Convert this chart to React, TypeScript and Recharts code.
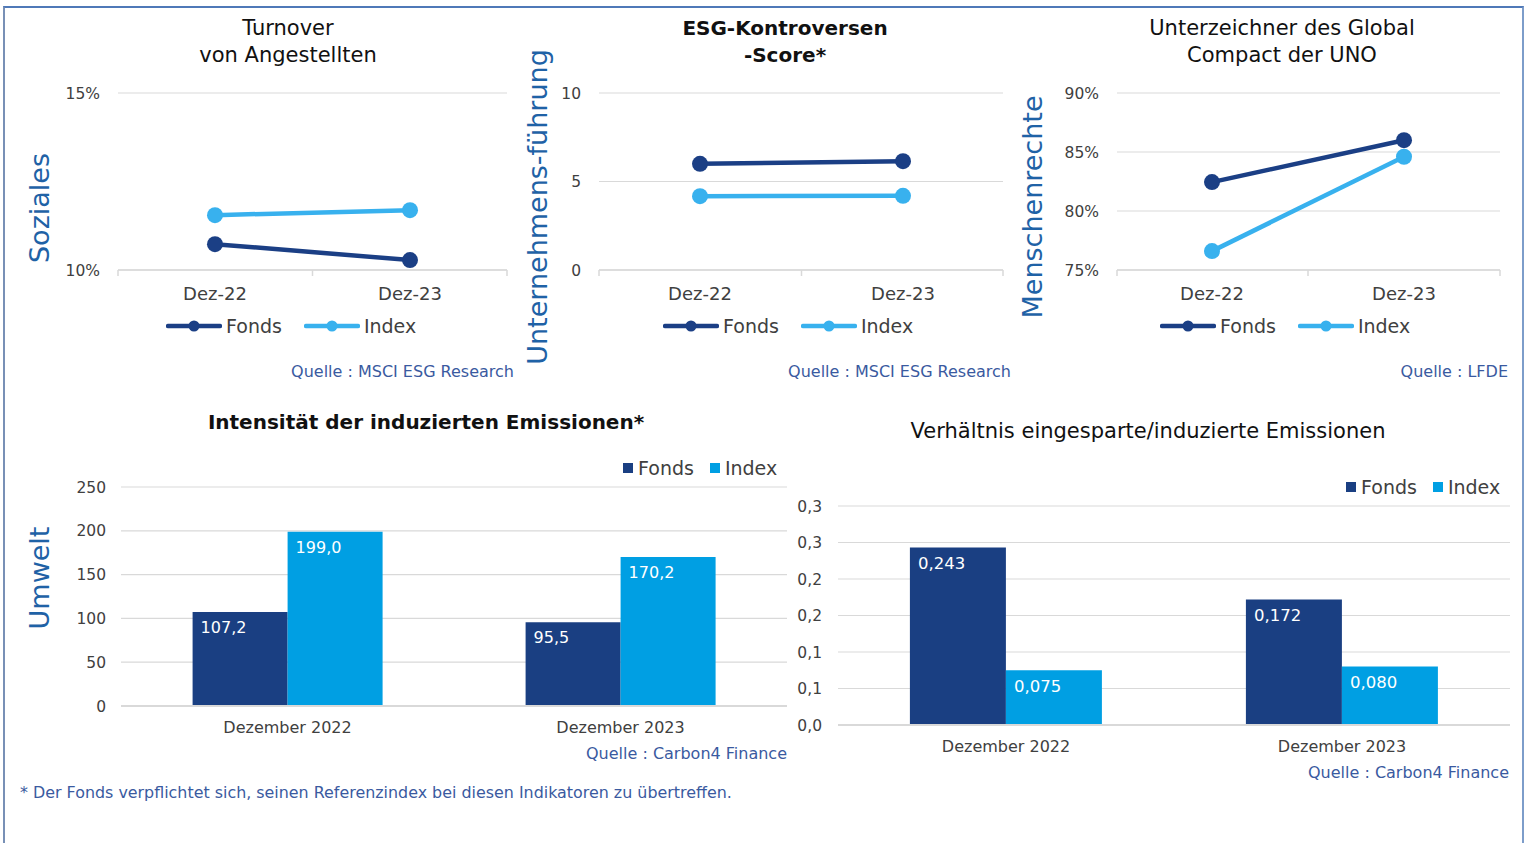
import React from 'react';
import { LineChart, Line, BarChart, Bar, XAxis, YAxis, CartesianGrid, Legend, LabelList } from 'recharts';

// ---------- data ----------
const lineCategories = ['Dez-22', 'Dez-23'];
const turnoverFonds = [10.73, 10.28];
const turnoverIndex = [11.55, 11.69];
const turnoverTicks = [10, 15];

const controversyFonds = [6.0, 6.15];
const controversyIndex = [4.17, 4.19];
const controversyTicks = [0, 5, 10];

const compactFonds = [82.45, 86.0];
const compactIndex = [76.6, 84.6];
const compactTicks = [75, 80, 85, 90];

const barCategories = ['Dezember 2022', 'Dezember 2023'];
const intensityFonds = [107.2, 95.5];
const intensityIndex = [199.0, 170.2];
const intensityTicks = [0, 50, 100, 150, 200, 250];

const ratioFonds = [0.243, 0.172];
const ratioIndex = [0.075, 0.08];
const ratioTicks = [0, 0.05, 0.1, 0.15, 0.2, 0.25, 0.3];
const ratioTickLabels = ['0,0', '0,1', '0,1', '0,2', '0,2', '0,3', '0,3'];

// ---------- styles ----------
const W = 1527;
const H = 843;
const FONT = '"DejaVu Sans", Verdana, sans-serif';
const FONDS_LINE = '#1b3f85';
const INDEX_LINE = '#38b1ee';
const FONDS_BAR = '#1a3f82';
const INDEX_BAR = '#009fe3';
const GRID = '#d9d9d9';
const TXT = '#404040';
const SRC = '#3a5aa0';
const AXIS_TITLE = '#1f62a6';

const lineTable = (f: number[], ix: number[]) =>
  lineCategories.map((c, i) => ({ cat: c, Fonds: f[i], Index: ix[i] }));
const barTable = (f: number[], ix: number[]) =>
  barCategories.map((c, i) => ({ cat: c, Fonds: f[i], Index: ix[i] }));

function LineCatTick(props: any) {
  const { x, y, payload, index, padL, padR, inner, count } = props;
  const marks: number[] = [];
  if (index === 0) marks.push(x - padL);
  marks.push(index === count - 1 ? x + padR : x + inner);
  return (
    <g>
      {marks.map((mx, i) => (
        <line key={i} x1={mx} x2={mx} y1={y} y2={y + 6} stroke={GRID} strokeWidth={1.5} />
      ))}
      <text x={x} y={y + 23.5} dy="0.35em" textAnchor="middle" fontSize={18} fill={TXT} fontFamily={FONT}>
        {payload.value}
      </text>
    </g>
  );
}

function BarCatTick(props: any) {
  const { x, y, payload } = props;
  return (
    <text x={x} y={y + 21} dy="0.35em" textAnchor="middle" fontSize={16} fill={TXT} fontFamily={FONT}>
      {payload.value}
    </text>
  );
}

function LineLegend(props: any) {
  const { payload } = props;
  return (
    <div style={{ display: 'flex', alignItems: 'center', fontFamily: FONT, fontSize: 19, color: TXT, whiteSpace: 'nowrap' }}>
      {(payload || []).map((p: any, i: number) => (
        <div key={i} style={{ display: 'flex', alignItems: 'center', marginRight: 22 }}>
          <svg width={56} height={14} style={{ display: 'block' }}>
            <line x1={2} y1={7} x2={54} y2={7} stroke={p.color} strokeWidth={4.5} strokeLinecap="round" />
            <circle cx={28} cy={7} r={5.5} fill={p.color} />
          </svg>
          <span style={{ marginLeft: 4 }}>{p.value}</span>
        </div>
      ))}
    </div>
  );
}

function BarLegend(props: any) {
  const { payload } = props;
  return (
    <div style={{ display: 'flex', alignItems: 'center', fontFamily: FONT, fontSize: 19, color: TXT, whiteSpace: 'nowrap' }}>
      {(payload || []).map((p: any, i: number) => (
        <div key={i} style={{ display: 'flex', alignItems: 'center', marginRight: 16 }}>
          <div style={{ width: 10, height: 10, background: p.color }} />
          <span style={{ marginLeft: 5 }}>{p.value}</span>
        </div>
      ))}
    </div>
  );
}

function InsideLabel(props: any) {
  const { x, y, value, digits, size } = props;
  const txt = Number(value).toFixed(digits).replace('.', ',');
  return (
    <text x={x + 8} y={y + 15.5} dy="0.35em" fill="#ffffff" fontSize={size} fontFamily={FONT}>
      {txt}
    </text>
  );
}

interface LineProps {
  data: any[];
  domain: [number, number];
  ticks: number[];
  fmt: (v: number) => string;
  plotL: number;
  plotR: number;
  plotT: number;
  plotB: number;
  padL: number;
  padR: number;
  gap: number;
  legendX: number;
  legendY: number;
}

function LinePanel(p: LineProps) {
  const xh = 40;
  const inner = (p.plotR - p.padR - (p.plotL + p.padL)) / 2;
  return (
    <div style={{ position: 'absolute', left: 0, top: 0 }}>
      <LineChart
        width={W}
        height={H}
        data={p.data}
        margin={{ top: p.plotT, right: W - p.plotR, bottom: H - p.plotB - xh, left: 0 }}
      >
        <CartesianGrid vertical={false} stroke={GRID} strokeWidth={1.2} />
        <XAxis
          dataKey="cat"
          height={xh}
          padding={{ left: p.padL, right: p.padR }}
          axisLine={{ stroke: GRID, strokeWidth: 1.5 }}
          tickLine={false}
          tickSize={0}
          tickMargin={0}
          interval={0}
          tick={<LineCatTick padL={p.padL} padR={p.padR} inner={inner} count={p.data.length} />}
        />
        <YAxis
          width={p.plotL}
          type="number"
          domain={p.domain}
          ticks={p.ticks}
          allowDataOverflow
          tickFormatter={p.fmt}
          axisLine={false}
          tickLine={false}
          tickSize={0}
          tickMargin={p.gap}
          tick={{ fontSize: 15.5, fill: TXT, fontFamily: FONT }}
        />
        <Line
          dataKey="Fonds"
          name="Fonds"
          stroke={FONDS_LINE}
          strokeWidth={4.5}
          dot={{ r: 8, fill: FONDS_LINE, stroke: FONDS_LINE, strokeWidth: 0 }}
          activeDot={false}
          isAnimationActive={false}
        />
        <Line
          dataKey="Index"
          name="Index"
          stroke={INDEX_LINE}
          strokeWidth={4.5}
          dot={{ r: 8, fill: INDEX_LINE, stroke: INDEX_LINE, strokeWidth: 0 }}
          activeDot={false}
          isAnimationActive={false}
        />
        <Legend
          layout="horizontal"
          verticalAlign="middle"
          align="center"
          content={<LineLegend />}
          wrapperStyle={{ left: p.legendX, top: p.legendY - 11, width: 320, height: 24 }}
        />
      </LineChart>
    </div>
  );
}

interface BarProps {
  data: any[];
  domain: [number, number];
  ticks: number[];
  fmt: (v: number, i: number) => string;
  plotL: number;
  plotR: number;
  plotT: number;
  plotB: number;
  gap: number;
  catGap: string;
  digits: number;
  labelSize: number;
  legendX: number;
  legendY: number;
}

function BarPanel(p: BarProps) {
  const xh = 40;
  return (
    <div style={{ position: 'absolute', left: 0, top: 0 }}>
      <BarChart
        width={W}
        height={H}
        data={p.data}
        barCategoryGap={p.catGap}
        barGap={0}
        margin={{ top: p.plotT, right: W - p.plotR, bottom: H - p.plotB - xh, left: 0 }}
      >
        <CartesianGrid vertical={false} stroke={GRID} strokeWidth={1.2} />
        <XAxis
          dataKey="cat"
          height={xh}
          axisLine={{ stroke: GRID, strokeWidth: 2 }}
          tickLine={false}
          tickSize={0}
          tickMargin={0}
          interval={0}
          tick={<BarCatTick />}
        />
        <YAxis
          width={p.plotL}
          type="number"
          domain={p.domain}
          ticks={p.ticks}
          allowDataOverflow
          tickFormatter={p.fmt}
          axisLine={false}
          tickLine={false}
          tickSize={0}
          tickMargin={p.gap}
          tick={{ fontSize: 15.5, fill: TXT, fontFamily: FONT }}
        />
        <Bar dataKey="Fonds" name="Fonds" fill={FONDS_BAR} isAnimationActive={false}>
          <LabelList dataKey="Fonds" content={<InsideLabel digits={p.digits} size={p.labelSize} />} />
        </Bar>
        <Bar dataKey="Index" name="Index" fill={INDEX_BAR} isAnimationActive={false}>
          <LabelList dataKey="Index" content={<InsideLabel digits={p.digits} size={p.labelSize} />} />
        </Bar>
        <Legend
          layout="horizontal"
          verticalAlign="middle"
          align="center"
          content={<BarLegend />}
          wrapperStyle={{ left: p.legendX, top: p.legendY - 11, width: 220, height: 24 }}
        />
      </BarChart>
    </div>
  );
}

function Title({ x, y, lines, bold }: { x: number; y: number; lines: string[]; bold?: boolean }) {
  return (
    <div
      style={{
        position: 'absolute',
        left: x,
        top: y,
        transform: 'translate(-50%, 0)',
        fontFamily: FONT,
        fontSize: bold ? 20 : 21,
        fontWeight: bold ? 'bold' : 'normal',
        lineHeight: '27px',
        color: '#111111',
        textAlign: 'center',
        whiteSpace: 'nowrap',
      }}
    >
      {lines.map((l, i) => (
        <div key={i}>{l}</div>
      ))}
    </div>
  );
}

function AxisTitle({ x, y, text }: { x: number; y: number; text: string }) {
  return (
    <div
      style={{
        position: 'absolute',
        left: x,
        top: y,
        transform: 'translate(-50%, -50%) rotate(-90deg)',
        fontFamily: FONT,
        fontSize: 27,
        lineHeight: '27px',
        color: AXIS_TITLE,
        whiteSpace: 'nowrap',
      }}
    >
      {text}
    </div>
  );
}

function Source({ x, y, text }: { x: number; y: number; text: string }) {
  return (
    <div
      style={{
        position: 'absolute',
        left: x,
        top: y,
        transform: 'translate(-100%, -50%)',
        fontFamily: FONT,
        fontSize: 16,
        lineHeight: '20px',
        color: SRC,
        whiteSpace: 'nowrap',
      }}
    >
      {text}
    </div>
  );
}

const pct = (v: number) => `${v}%`;
const num = (v: number) => `${v}`;

export default function App() {
  return (
    <div style={{ position: 'absolute', left: 0, top: 0, width: W, height: H, overflow: 'hidden', background: '#ffffff' }}>
      <div
        style={{
          position: 'absolute',
          left: 3,
          top: 6,
          width: 1517,
          height: 900,
          borderTop: '2px solid #4f79b8',
          borderLeft: '2px solid #7890b6',
          borderRight: '2px solid #7d9dca',
        }}
      />

      <LinePanel
        data={lineTable(turnoverFonds, turnoverIndex)}
        domain={[10, 15]}
        ticks={turnoverTicks}
        fmt={pct}
        plotL={118}
        plotR={507}
        plotT={93}
        plotB={270}
        padL={97}
        padR={97}
        gap={18}
        legendX={166}
        legendY={326}
      />
      <LinePanel
        data={lineTable(controversyFonds, controversyIndex)}
        domain={[0, 10]}
        ticks={controversyTicks}
        fmt={num}
        plotL={599}
        plotR={1003}
        plotT={93}
        plotB={270}
        padL={101}
        padR={100}
        gap={18}
        legendX={663}
        legendY={326}
      />
      <LinePanel
        data={lineTable(compactFonds, compactIndex)}
        domain={[75, 90]}
        ticks={compactTicks}
        fmt={pct}
        plotL={1117}
        plotR={1500}
        plotT={93}
        plotB={270}
        padL={95}
        padR={96}
        gap={18}
        legendX={1160}
        legendY={326}
      />

      <BarPanel
        data={barTable(intensityFonds, intensityIndex)}
        domain={[0, 250]}
        ticks={intensityTicks}
        fmt={(v: number) => `${v}`}
        plotL={121}
        plotR={787}
        plotT={487}
        plotB={706}
        gap={15}
        catGap="21.5%"
        digits={1}
        labelSize={16}
        legendX={623}
        legendY={468}
      />
      <BarPanel
        data={barTable(ratioFonds, ratioIndex)}
        domain={[0, 0.3]}
        ticks={ratioTicks}
        fmt={(v: number, i: number) => ratioTickLabels[ratioTicks.indexOf(v)] ?? ratioTickLabels[i]}
        plotL={838}
        plotR={1510}
        plotT={506}
        plotB={725}
        gap={16}
        catGap="21.4%"
        digits={3}
        labelSize={16.5}
        legendX={1346}
        legendY={487}
      />

      <Title x={288} y={15} lines={['Turnover', 'von Angestellten']} />
      <Title x={785} y={15} lines={['ESG-Kontroversen', '-Score*']} bold />
      <Title x={1282} y={15} lines={['Unterzeichner des Global', 'Compact der UNO']} />
      <Title x={426} y={409} lines={['Intensität der induzierten Emissionen*']} bold />
      <Title x={1148} y={418} lines={['Verhältnis eingesparte/induzierte Emissionen']} />

      <AxisTitle x={39} y={208} text="Soziales" />
      <AxisTitle x={537} y={207} text="Unternehmens-führung" />
      <AxisTitle x={1032} y={207} text="Menschenrechte" />
      <AxisTitle x={39} y={578} text="Umwelt" />

      <Source x={514} y={372} text="Quelle : MSCI ESG Research" />
      <Source x={1011} y={372} text="Quelle : MSCI ESG Research" />
      <Source x={1508} y={372} text="Quelle : LFDE" />
      <Source x={787} y={754} text="Quelle : Carbon4 Finance" />
      <Source x={1509} y={773} text="Quelle : Carbon4 Finance" />

      <div
        style={{
          position: 'absolute',
          left: 20,
          top: 793,
          transform: 'translate(0, -50%)',
          fontFamily: FONT,
          fontSize: 15.9,
          lineHeight: '20px',
          color: SRC,
          whiteSpace: 'nowrap',
        }}
      >
        * Der Fonds verpflichtet sich, seinen Referenzindex bei diesen Indikatoren zu übertreffen.
      </div>
    </div>
  );
}
